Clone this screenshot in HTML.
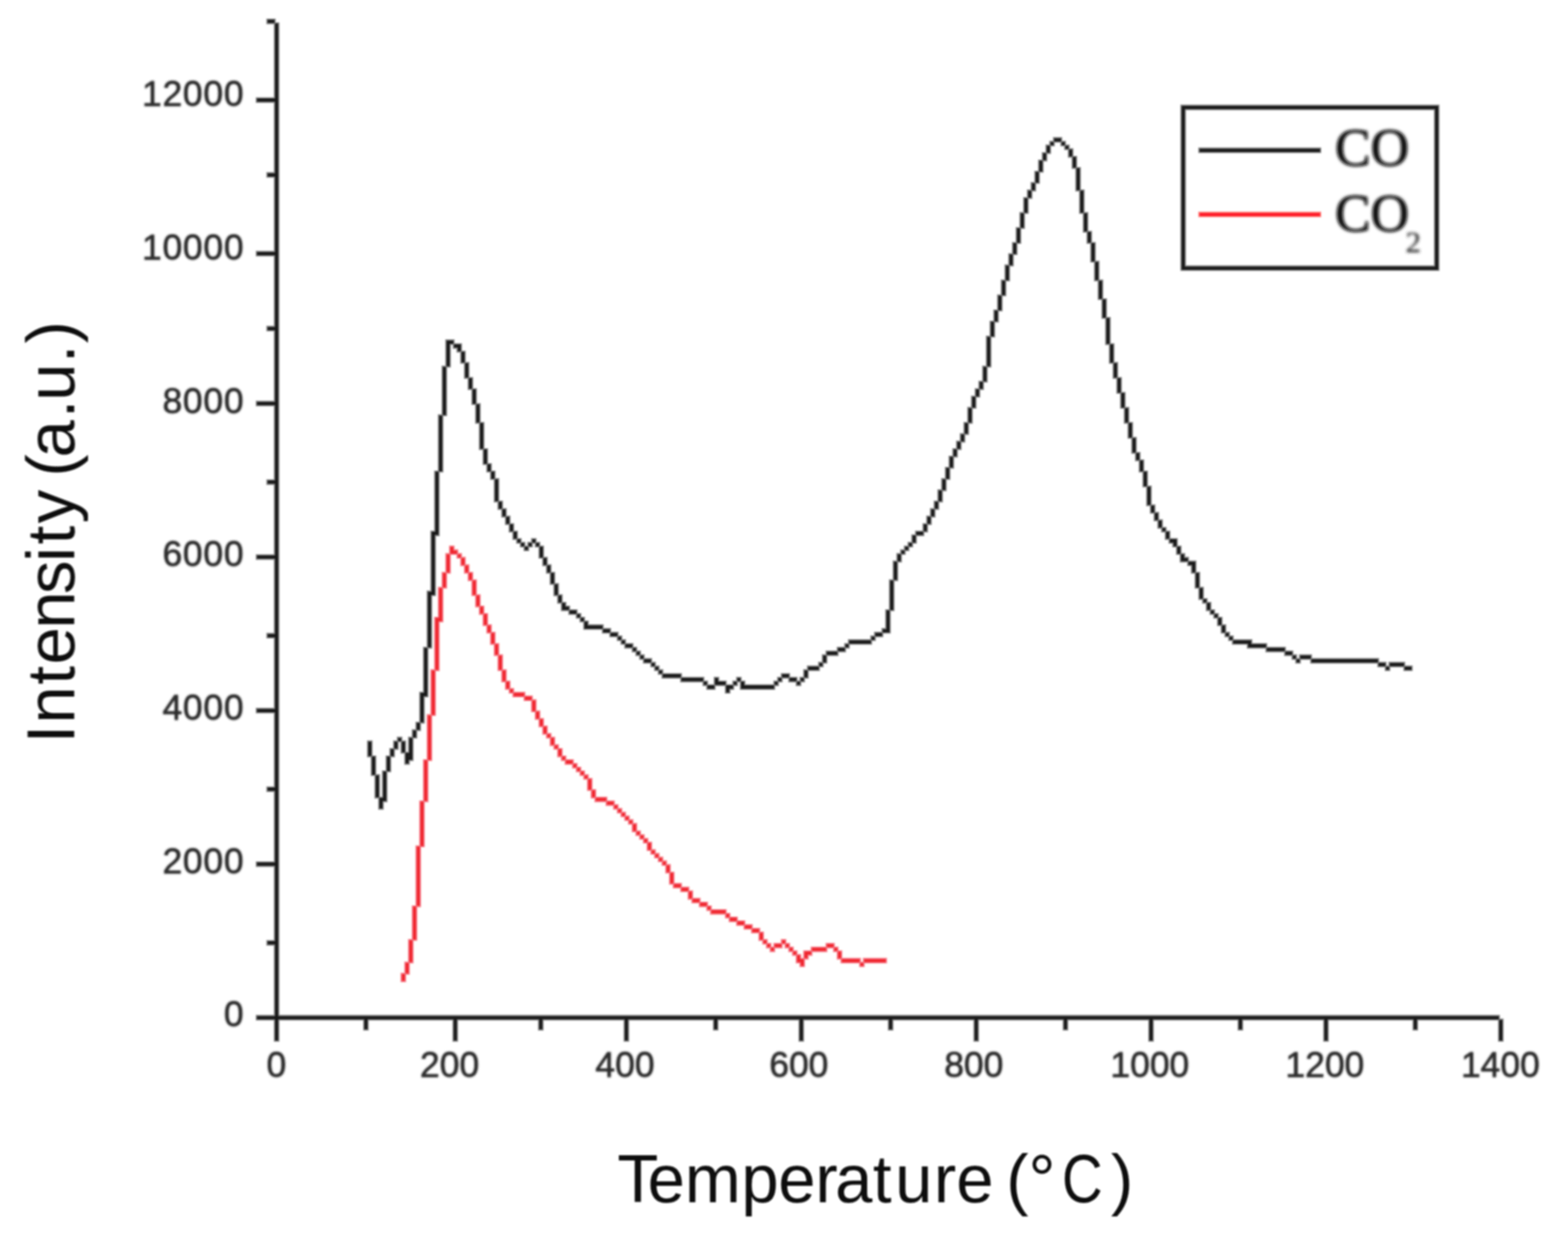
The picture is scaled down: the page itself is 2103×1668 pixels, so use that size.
<!DOCTYPE html>
<html lang="en">
<head>
<meta charset="utf-8">
<title>TPD profile: CO and CO2 intensity vs temperature</title>
<style>
html,body{margin:0;padding:0;background:#fff;}
body{width:2103px;height:1668px;overflow:hidden;}
svg{display:block;}
.ln{fill:none;stroke-linecap:square;stroke-linejoin:miter;}
.tick{font-family:"Liberation Sans",Arial,sans-serif;font-size:47.5px;fill:#2a2a2a;stroke:#2a2a2a;stroke-width:0.9;stroke-linejoin:round;}
.title{font-family:"Liberation Sans",Arial,sans-serif;font-size:90px;fill:#0c0c0c;}
.leg{font-family:"Liberation Serif","Times New Roman",serif;fill:#0a0a0a;stroke:#0a0a0a;stroke-width:1.3;stroke-linejoin:round;}
</style>
</head>
<body>
<svg width="2103" height="1668" viewBox="0 0 2103 1668">
<defs>
<filter id="fLine" filterUnits="userSpaceOnUse" x="0" y="0" width="2103" height="1668"><feGaussianBlur stdDeviation="1.0"/></filter>
<filter id="fTick" filterUnits="userSpaceOnUse" x="0" y="0" width="2103" height="1668"><feGaussianBlur stdDeviation="1.8"/></filter>
<filter id="fTitle" filterUnits="userSpaceOnUse" x="0" y="0" width="2103" height="1668"><feGaussianBlur stdDeviation="1.1"/></filter>
<filter id="fLeg" filterUnits="userSpaceOnUse" x="0" y="0" width="2103" height="1668"><feGaussianBlur stdDeviation="1.9"/></filter>
</defs>
<rect x="0" y="0" width="2103" height="1668" fill="#ffffff"/>
<g id="axes" class="ln" filter="url(#fLine)">
<path d="M371.0,33.7V1393.0M361.0,28.7H366.0M346.8,1364.6H2008.0M2012.9,1369.6V1393.0M490.8,1364.6V1378.1M610.6,1364.6V1393.0M725.3,1364.6V1378.1M840.1,1364.6V1393.0M959.9,1364.6V1378.1M1074.7,1364.6V1393.0M1194.5,1364.6V1378.1M1309.3,1364.6V1393.0M1429.0,1364.6V1378.1M1543.8,1364.6V1393.0M1663.6,1364.6V1378.1M1778.4,1364.6V1393.0M1898.2,1364.6V1378.1M361.0,1264.2H371.0M346.8,1158.7H371.0M361.0,1058.2H371.0M346.8,952.8H371.0M361.0,852.3H371.0M346.8,746.9H371.0M361.0,646.4H371.0M346.8,541.0H371.0M361.0,440.5H371.0M346.8,340.1H371.0M361.0,234.6H371.0M346.8,134.2H371.0" stroke="#000000" stroke-width="7.5" stroke-opacity="0.475"/>
<path d="M371.0,33.7V1393.0M361.0,28.7H366.0M346.8,1364.6H2008.0M2012.9,1369.6V1393.0M490.8,1364.6V1378.1M610.6,1364.6V1393.0M725.3,1364.6V1378.1M840.1,1364.6V1393.0M959.9,1364.6V1378.1M1074.7,1364.6V1393.0M1194.5,1364.6V1378.1M1309.3,1364.6V1393.0M1429.0,1364.6V1378.1M1543.8,1364.6V1393.0M1663.6,1364.6V1378.1M1778.4,1364.6V1393.0M1898.2,1364.6V1378.1M361.0,1264.2H371.0M346.8,1158.7H371.0M361.0,1058.2H371.0M346.8,952.8H371.0M361.0,852.3H371.0M346.8,746.9H371.0M361.0,646.4H371.0M346.8,541.0H371.0M361.0,440.5H371.0M346.8,340.1H371.0M361.0,234.6H371.0M346.8,134.2H371.0" stroke="#000000" stroke-width="4.25" stroke-opacity="0.825"/>
</g>
<g id="xlabels" class="tick" filter="url(#fTick)" text-anchor="middle">
<text x="370.6" y="1443.6">0</text>
<text x="603.0" y="1443.6">200</text>
<text x="838.2" y="1443.6">400</text>
<text x="1071.4" y="1443.6">600</text>
<text x="1306.1" y="1443.6">800</text>
<text x="1542.2" y="1443.6">1000</text>
<text x="1776.9" y="1443.6">1200</text>
<text x="2012.3" y="1443.6">1400</text>
</g>
<g id="ylabels" class="tick" filter="url(#fTick)" text-anchor="end" letter-spacing="1">
<text x="327.6" y="1376.4">0</text>
<text x="327.6" y="1170.7">2000</text>
<text x="327.6" y="965.0">4000</text>
<text x="327.6" y="759.3">6000</text>
<text x="327.6" y="553.6">8000</text>
<text x="327.6" y="347.9">10000</text>
<text x="327.6" y="142.2">12000</text>
</g>
<g id="curve-co2" filter="url(#fLine)">
<path d="M537.2,1304.3h7.5v12.6h-7.5zM542.2,1289.3h7.5v17.6h-7.5zM547.2,1259.1h7.5v32.7h-7.5zM552.2,1213.9h7.5v47.7h-7.5zM557.2,1133.5h7.5v82.9h-7.5zM562.2,1073.2h7.5v62.8h-7.5zM567.2,1017.9h7.5v57.8h-7.5zM572.2,957.6h7.5v62.8h-7.5zM577.2,897.3h7.5v62.8h-7.5zM582.2,827.0h7.5v72.9h-7.5zM587.2,786.8h7.5v47.7h-7.5zM592.2,766.7h7.5v22.6h-7.5zM597.2,741.6h7.5v27.6h-7.5zM602.2,731.5h7.5v12.6h-7.5zM607.2,736.5h7.5v7.5h-7.5zM612.2,741.6h7.5v7.5h-7.5zM617.2,746.6h7.5v12.6h-7.5zM622.2,756.6h7.5v12.6h-7.5zM627.2,766.7h7.5v12.6h-7.5zM632.2,776.7h7.5v22.6h-7.5zM637.2,796.8h7.5v17.6h-7.5zM642.2,811.9h7.5v12.6h-7.5zM647.2,822.0h7.5v17.6h-7.5zM652.2,837.0h7.5v12.6h-7.5zM657.2,847.1h7.5v17.6h-7.5zM662.2,862.2h7.5v17.6h-7.5zM667.2,877.2h7.5v22.6h-7.5zM672.2,897.3h7.5v17.6h-7.5zM677.2,912.4h7.5v12.6h-7.5zM682.2,922.5h7.5v7.5h-7.5zM687.2,927.5h7.5v7.5h-7.5zM692.2,927.5h7.5v7.5h-7.5zM697.2,927.5h7.5v7.5h-7.5zM702.2,932.5h7.5v7.5h-7.5zM707.2,932.5h7.5v7.5h-7.5zM712.2,937.5h7.5v17.6h-7.5zM717.2,952.6h7.5v12.6h-7.5zM722.2,962.7h7.5v12.6h-7.5zM727.2,972.7h7.5v12.6h-7.5zM732.2,982.8h7.5v7.5h-7.5zM737.2,987.8h7.5v12.6h-7.5zM742.2,997.8h7.5v7.5h-7.5zM747.2,1002.9h7.5v12.6h-7.5zM752.2,1012.9h7.5v7.5h-7.5zM757.2,1017.9h7.5v7.5h-7.5zM762.2,1017.9h7.5v7.5h-7.5zM767.2,1023.0h7.5v7.5h-7.5zM772.2,1028.0h7.5v7.5h-7.5zM777.2,1033.0h7.5v7.5h-7.5zM782.2,1038.0h7.5v7.5h-7.5zM787.2,1043.0h7.5v17.6h-7.5zM792.2,1058.1h7.5v12.6h-7.5zM797.2,1068.2h7.5v7.5h-7.5zM802.2,1068.2h7.5v7.5h-7.5zM807.2,1068.2h7.5v7.5h-7.5zM812.2,1073.2h7.5v7.5h-7.5zM817.2,1073.2h7.5v7.5h-7.5zM822.2,1078.2h7.5v7.5h-7.5zM827.2,1083.2h7.5v7.5h-7.5zM832.2,1088.3h7.5v7.5h-7.5zM837.2,1093.3h7.5v7.5h-7.5zM842.2,1098.3h7.5v7.5h-7.5zM847.2,1103.3h7.5v12.6h-7.5zM852.2,1113.4h7.5v7.5h-7.5zM857.2,1118.4h7.5v7.5h-7.5zM862.2,1123.5h7.5v7.5h-7.5zM867.2,1128.5h7.5v12.6h-7.5zM872.2,1138.5h7.5v7.5h-7.5zM877.2,1143.5h7.5v7.5h-7.5zM882.2,1148.6h7.5v7.5h-7.5zM887.2,1153.6h7.5v7.5h-7.5zM892.2,1158.6h7.5v12.6h-7.5zM897.2,1168.7h7.5v17.6h-7.5zM902.2,1183.8h7.5v7.5h-7.5zM907.2,1183.8h7.5v7.5h-7.5zM912.2,1188.8h7.5v7.5h-7.5zM917.2,1188.8h7.5v7.5h-7.5zM922.2,1193.8h7.5v12.6h-7.5zM927.2,1203.8h7.5v7.5h-7.5zM932.2,1203.8h7.5v7.5h-7.5zM937.2,1208.9h7.5v7.5h-7.5zM942.2,1208.9h7.5v7.5h-7.5zM947.2,1213.9h7.5v7.5h-7.5zM952.2,1218.9h7.5v7.5h-7.5zM957.2,1218.9h7.5v7.5h-7.5zM962.2,1218.9h7.5v7.5h-7.5zM967.2,1218.9h7.5v7.5h-7.5zM972.2,1224.0h7.5v7.5h-7.5zM977.2,1229.0h7.5v7.5h-7.5zM982.2,1229.0h7.5v7.5h-7.5zM987.2,1234.0h7.5v7.5h-7.5zM992.2,1234.0h7.5v7.5h-7.5zM997.2,1239.0h7.5v7.5h-7.5zM1002.2,1239.0h7.5v7.5h-7.5zM1007.2,1244.0h7.5v7.5h-7.5zM1012.2,1244.0h7.5v7.5h-7.5zM1017.2,1249.1h7.5v12.6h-7.5zM1022.2,1259.1h7.5v7.5h-7.5zM1027.2,1264.2h7.5v7.5h-7.5zM1032.2,1269.2h7.5v7.5h-7.5zM1037.2,1264.2h7.5v7.5h-7.5zM1042.2,1264.2h7.5v7.5h-7.5zM1047.2,1259.1h7.5v7.5h-7.5zM1052.2,1264.2h7.5v7.5h-7.5zM1057.2,1269.2h7.5v7.5h-7.5zM1062.2,1274.2h7.5v7.5h-7.5zM1067.2,1279.2h7.5v12.6h-7.5zM1072.2,1284.2h7.5v12.6h-7.5zM1077.2,1274.2h7.5v12.6h-7.5zM1082.2,1274.2h7.5v7.5h-7.5zM1087.2,1269.2h7.5v7.5h-7.5zM1092.2,1269.2h7.5v7.5h-7.5zM1097.2,1269.2h7.5v7.5h-7.5zM1102.2,1269.2h7.5v7.5h-7.5zM1107.2,1264.2h7.5v7.5h-7.5zM1112.2,1264.2h7.5v7.5h-7.5zM1117.2,1269.2h7.5v7.5h-7.5zM1122.2,1274.2h7.5v12.6h-7.5zM1127.2,1284.2h7.5v7.5h-7.5zM1132.2,1284.2h7.5v7.5h-7.5zM1137.2,1284.2h7.5v7.5h-7.5zM1142.2,1284.2h7.5v7.5h-7.5zM1147.2,1284.2h7.5v7.5h-7.5zM1152.2,1289.3h7.5v7.5h-7.5zM1157.2,1284.2h7.5v7.5h-7.5zM1162.2,1284.2h7.5v7.5h-7.5zM1167.2,1284.2h7.5v7.5h-7.5zM1172.2,1284.2h7.5v7.5h-7.5zM1177.2,1284.2h7.5v7.5h-7.5zM1182.2,1284.2h7.5v7.5h-7.5zM602.2,736.5h12.5v7.5h-12.5zM582.2,827.0h12.5v7.5h-12.5zM687.2,927.5h17.5v7.5h-17.5zM702.2,932.5h12.5v7.5h-12.5zM757.2,1017.9h12.5v7.5h-12.5zM797.2,1068.2h17.5v7.5h-17.5zM812.2,1073.2h12.5v7.5h-12.5zM902.2,1183.8h12.5v7.5h-12.5zM912.2,1188.8h12.5v7.5h-12.5zM927.2,1203.8h12.5v7.5h-12.5zM937.2,1208.9h12.5v7.5h-12.5zM952.2,1218.9h22.5v7.5h-22.5zM977.2,1229.0h12.5v7.5h-12.5zM987.2,1234.0h12.5v7.5h-12.5zM997.2,1239.0h12.5v7.5h-12.5zM1007.2,1244.0h12.5v7.5h-12.5zM1037.2,1264.2h12.5v7.5h-12.5zM1107.2,1264.2h12.5v7.5h-12.5zM1087.2,1269.2h22.5v7.5h-22.5zM1077.2,1274.2h12.5v7.5h-12.5zM1067.2,1284.2h12.5v7.5h-12.5zM1127.2,1284.2h27.5v7.5h-27.5zM1157.2,1284.2h32.5v7.5h-32.5z" fill="#ee0a16" fill-opacity="0.475"/>
<path d="M538.9,1306.0h4.2v9.3h-4.2zM543.9,1290.9h4.2v14.3h-4.2zM548.9,1260.8h4.2v29.4h-4.2zM553.9,1215.5h4.2v44.5h-4.2zM558.9,1135.1h4.2v79.7h-4.2zM563.9,1074.8h4.2v59.6h-4.2zM568.9,1019.6h4.2v54.5h-4.2zM573.9,959.3h4.2v59.6h-4.2zM578.9,899.0h4.2v59.6h-4.2zM583.9,828.6h4.2v69.6h-4.2zM588.9,788.4h4.2v44.5h-4.2zM593.9,768.3h4.2v19.4h-4.2zM598.9,743.2h4.2v24.4h-4.2zM603.9,733.1h4.2v9.3h-4.2zM608.9,738.2h4.2v4.3h-4.2zM613.9,743.2h4.2v4.3h-4.2zM618.9,748.2h4.2v9.3h-4.2zM623.9,758.3h4.2v9.3h-4.2zM628.9,768.3h4.2v9.3h-4.2zM633.9,778.4h4.2v19.4h-4.2zM638.9,798.5h4.2v14.3h-4.2zM643.9,813.5h4.2v9.3h-4.2zM648.9,823.6h4.2v14.3h-4.2zM653.9,838.7h4.2v9.3h-4.2zM658.9,848.7h4.2v14.3h-4.2zM663.9,863.8h4.2v14.3h-4.2zM668.9,878.9h4.2v19.4h-4.2zM673.9,899.0h4.2v14.3h-4.2zM678.9,914.0h4.2v9.3h-4.2zM683.9,924.1h4.2v4.3h-4.2zM688.9,929.1h4.2v4.3h-4.2zM693.9,929.1h4.2v4.3h-4.2zM698.9,929.1h4.2v4.3h-4.2zM703.9,934.1h4.2v4.3h-4.2zM708.9,934.1h4.2v4.3h-4.2zM713.9,939.2h4.2v14.3h-4.2zM718.9,954.2h4.2v9.3h-4.2zM723.9,964.3h4.2v9.3h-4.2zM728.9,974.3h4.2v9.3h-4.2zM733.9,984.4h4.2v4.3h-4.2zM738.9,989.4h4.2v9.3h-4.2zM743.9,999.5h4.2v4.3h-4.2zM748.9,1004.5h4.2v9.3h-4.2zM753.9,1014.5h4.2v4.3h-4.2zM758.9,1019.6h4.2v4.3h-4.2zM763.9,1019.6h4.2v4.3h-4.2zM768.9,1024.6h4.2v4.3h-4.2zM773.9,1029.6h4.2v4.3h-4.2zM778.9,1034.6h4.2v4.3h-4.2zM783.9,1039.7h4.2v4.3h-4.2zM788.9,1044.7h4.2v14.3h-4.2zM793.9,1059.8h4.2v9.3h-4.2zM798.9,1069.8h4.2v4.3h-4.2zM803.9,1069.8h4.2v4.3h-4.2zM808.9,1069.8h4.2v4.3h-4.2zM813.9,1074.8h4.2v4.3h-4.2zM818.9,1074.8h4.2v4.3h-4.2zM823.9,1079.8h4.2v4.3h-4.2zM828.9,1084.9h4.2v4.3h-4.2zM833.9,1089.9h4.2v4.3h-4.2zM838.9,1094.9h4.2v4.3h-4.2zM843.9,1100.0h4.2v4.3h-4.2zM848.9,1105.0h4.2v9.3h-4.2zM853.9,1115.0h4.2v4.3h-4.2zM858.9,1120.0h4.2v4.3h-4.2zM863.9,1125.1h4.2v4.3h-4.2zM868.9,1130.1h4.2v9.3h-4.2zM873.9,1140.2h4.2v4.3h-4.2zM878.9,1145.2h4.2v4.3h-4.2zM883.9,1150.2h4.2v4.3h-4.2zM888.9,1155.2h4.2v4.3h-4.2zM893.9,1160.2h4.2v9.3h-4.2zM898.9,1170.3h4.2v14.3h-4.2zM903.9,1185.4h4.2v4.3h-4.2zM908.9,1185.4h4.2v4.3h-4.2zM913.9,1190.4h4.2v4.3h-4.2zM918.9,1190.4h4.2v4.3h-4.2zM923.9,1195.4h4.2v9.3h-4.2zM928.9,1205.5h4.2v4.3h-4.2zM933.9,1205.5h4.2v4.3h-4.2zM938.9,1210.5h4.2v4.3h-4.2zM943.9,1210.5h4.2v4.3h-4.2zM948.9,1215.5h4.2v4.3h-4.2zM953.9,1220.5h4.2v4.3h-4.2zM958.9,1220.5h4.2v4.3h-4.2zM963.9,1220.5h4.2v4.3h-4.2zM968.9,1220.5h4.2v4.3h-4.2zM973.9,1225.6h4.2v4.3h-4.2zM978.9,1230.6h4.2v4.3h-4.2zM983.9,1230.6h4.2v4.3h-4.2zM988.9,1235.6h4.2v4.3h-4.2zM993.9,1235.6h4.2v4.3h-4.2zM998.9,1240.7h4.2v4.3h-4.2zM1003.9,1240.7h4.2v4.3h-4.2zM1008.9,1245.7h4.2v4.3h-4.2zM1013.9,1245.7h4.2v4.3h-4.2zM1018.9,1250.7h4.2v9.3h-4.2zM1023.9,1260.8h4.2v4.3h-4.2zM1028.9,1265.8h4.2v4.3h-4.2zM1033.9,1270.8h4.2v4.3h-4.2zM1038.9,1265.8h4.2v4.3h-4.2zM1043.9,1265.8h4.2v4.3h-4.2zM1048.9,1260.8h4.2v4.3h-4.2zM1053.9,1265.8h4.2v4.3h-4.2zM1058.9,1270.8h4.2v4.3h-4.2zM1063.9,1275.8h4.2v4.3h-4.2zM1068.9,1280.8h4.2v9.3h-4.2zM1073.9,1285.9h4.2v9.3h-4.2zM1078.9,1275.8h4.2v9.3h-4.2zM1083.9,1275.8h4.2v4.3h-4.2zM1088.9,1270.8h4.2v4.3h-4.2zM1093.9,1270.8h4.2v4.3h-4.2zM1098.9,1270.8h4.2v4.3h-4.2zM1103.9,1270.8h4.2v4.3h-4.2zM1108.9,1265.8h4.2v4.3h-4.2zM1113.9,1265.8h4.2v4.3h-4.2zM1118.9,1270.8h4.2v4.3h-4.2zM1123.9,1275.8h4.2v9.3h-4.2zM1128.9,1285.9h4.2v4.3h-4.2zM1133.9,1285.9h4.2v4.3h-4.2zM1138.9,1285.9h4.2v4.3h-4.2zM1143.9,1285.9h4.2v4.3h-4.2zM1148.9,1285.9h4.2v4.3h-4.2zM1153.9,1290.9h4.2v4.3h-4.2zM1158.9,1285.9h4.2v4.3h-4.2zM1163.9,1285.9h4.2v4.3h-4.2zM1168.9,1285.9h4.2v4.3h-4.2zM1173.9,1285.9h4.2v4.3h-4.2zM1178.9,1285.9h4.2v4.3h-4.2zM1183.9,1285.9h4.2v4.3h-4.2zM603.9,738.2h9.2v4.3h-9.2zM583.9,828.6h9.2v4.3h-9.2zM688.9,929.1h14.2v4.3h-14.2zM703.9,934.1h9.2v4.3h-9.2zM758.9,1019.6h9.2v4.3h-9.2zM798.9,1069.8h14.2v4.3h-14.2zM813.9,1074.8h9.2v4.3h-9.2zM903.9,1185.4h9.2v4.3h-9.2zM913.9,1190.4h9.2v4.3h-9.2zM928.9,1205.5h9.2v4.3h-9.2zM938.9,1210.5h9.2v4.3h-9.2zM953.9,1220.5h19.2v4.3h-19.2zM978.9,1230.6h9.2v4.3h-9.2zM988.9,1235.6h9.2v4.3h-9.2zM998.9,1240.7h9.2v4.3h-9.2zM1008.9,1245.7h9.2v4.3h-9.2zM1038.9,1265.8h9.2v4.3h-9.2zM1108.9,1265.8h9.2v4.3h-9.2zM1088.9,1270.8h19.2v4.3h-19.2zM1078.9,1275.8h9.2v4.3h-9.2zM1068.9,1285.9h9.2v4.3h-9.2zM1128.9,1285.9h24.2v4.3h-24.2zM1158.9,1285.9h29.2v4.3h-29.2z" fill="#ee0a16" fill-opacity="0.825"/>
</g>
<g id="curve-co" filter="url(#fLine)">
<path d="M492.2,992.8h7.5v22.6h-7.5zM497.2,1012.9h7.5v27.6h-7.5zM502.2,1038.0h7.5v32.7h-7.5zM507.2,1068.2h7.5v17.6h-7.5zM512.2,1033.0h7.5v42.7h-7.5zM517.2,1012.9h7.5v22.6h-7.5zM522.2,1002.9h7.5v12.6h-7.5zM527.2,992.8h7.5v12.6h-7.5zM532.2,987.8h7.5v7.5h-7.5zM537.2,992.8h7.5v17.6h-7.5zM542.2,1007.9h7.5v17.6h-7.5zM547.2,987.8h7.5v32.7h-7.5zM552.2,977.7h7.5v12.6h-7.5zM557.2,967.7h7.5v12.6h-7.5zM562.2,927.5h7.5v42.7h-7.5zM567.2,867.2h7.5v67.8h-7.5zM572.2,791.8h7.5v77.9h-7.5zM577.2,711.4h7.5v87.9h-7.5zM582.2,631.0h7.5v87.9h-7.5zM587.2,555.6h7.5v77.9h-7.5zM592.2,490.3h7.5v67.8h-7.5zM597.2,455.1h7.5v37.7h-7.5zM602.2,455.1h7.5v7.5h-7.5zM607.2,460.2h7.5v7.5h-7.5zM612.2,460.2h7.5v12.6h-7.5zM617.2,470.2h7.5v17.6h-7.5zM622.2,485.3h7.5v22.6h-7.5zM627.2,505.4h7.5v17.6h-7.5zM632.2,520.5h7.5v22.6h-7.5zM637.2,540.6h7.5v27.6h-7.5zM642.2,565.7h7.5v37.7h-7.5zM647.2,600.9h7.5v22.6h-7.5zM652.2,621.0h7.5v12.6h-7.5zM657.2,631.0h7.5v12.6h-7.5zM662.2,641.1h7.5v32.7h-7.5zM667.2,671.2h7.5v12.6h-7.5zM672.2,681.3h7.5v12.6h-7.5zM677.2,691.3h7.5v12.6h-7.5zM682.2,701.4h7.5v12.6h-7.5zM687.2,711.4h7.5v12.6h-7.5zM692.2,721.5h7.5v7.5h-7.5zM697.2,726.5h7.5v7.5h-7.5zM702.2,731.5h7.5v7.5h-7.5zM707.2,726.5h7.5v7.5h-7.5zM712.2,721.5h7.5v7.5h-7.5zM717.2,726.5h7.5v7.5h-7.5zM722.2,731.5h7.5v17.6h-7.5zM727.2,746.6h7.5v12.6h-7.5zM732.2,756.6h7.5v12.6h-7.5zM737.2,766.7h7.5v17.6h-7.5zM742.2,781.8h7.5v17.6h-7.5zM747.2,796.8h7.5v12.6h-7.5zM752.2,806.9h7.5v12.6h-7.5zM757.2,811.9h7.5v7.5h-7.5zM762.2,816.9h7.5v7.5h-7.5zM767.2,816.9h7.5v7.5h-7.5zM772.2,822.0h7.5v7.5h-7.5zM777.2,827.0h7.5v7.5h-7.5zM782.2,832.0h7.5v12.6h-7.5zM787.2,837.0h7.5v7.5h-7.5zM792.2,837.0h7.5v7.5h-7.5zM797.2,837.0h7.5v7.5h-7.5zM802.2,837.0h7.5v7.5h-7.5zM807.2,842.1h7.5v7.5h-7.5zM812.2,842.1h7.5v7.5h-7.5zM817.2,847.1h7.5v7.5h-7.5zM822.2,847.1h7.5v7.5h-7.5zM827.2,852.1h7.5v7.5h-7.5zM832.2,857.1h7.5v7.5h-7.5zM837.2,862.2h7.5v7.5h-7.5zM842.2,862.2h7.5v7.5h-7.5zM847.2,867.2h7.5v7.5h-7.5zM852.2,872.2h7.5v7.5h-7.5zM857.2,877.2h7.5v7.5h-7.5zM862.2,882.3h7.5v7.5h-7.5zM867.2,882.3h7.5v7.5h-7.5zM872.2,887.3h7.5v7.5h-7.5zM877.2,892.3h7.5v7.5h-7.5zM882.2,897.3h7.5v7.5h-7.5zM887.2,902.4h7.5v7.5h-7.5zM892.2,902.4h7.5v7.5h-7.5zM897.2,902.4h7.5v7.5h-7.5zM902.2,902.4h7.5v7.5h-7.5zM907.2,902.4h7.5v7.5h-7.5zM912.2,907.4h7.5v7.5h-7.5zM917.2,907.4h7.5v7.5h-7.5zM922.2,907.4h7.5v7.5h-7.5zM927.2,907.4h7.5v7.5h-7.5zM932.2,907.4h7.5v7.5h-7.5zM937.2,907.4h7.5v7.5h-7.5zM942.2,912.4h7.5v7.5h-7.5zM947.2,917.4h7.5v7.5h-7.5zM952.2,917.4h7.5v7.5h-7.5zM957.2,907.4h7.5v12.6h-7.5zM962.2,912.4h7.5v7.5h-7.5zM967.2,912.4h7.5v7.5h-7.5zM972.2,917.4h7.5v12.6h-7.5zM977.2,917.4h7.5v7.5h-7.5zM982.2,912.4h7.5v7.5h-7.5zM987.2,907.4h7.5v7.5h-7.5zM992.2,912.4h7.5v12.6h-7.5zM997.2,917.4h7.5v7.5h-7.5zM1002.2,917.4h7.5v7.5h-7.5zM1007.2,917.4h7.5v7.5h-7.5zM1012.2,917.4h7.5v7.5h-7.5zM1017.2,917.4h7.5v7.5h-7.5zM1022.2,917.4h7.5v7.5h-7.5zM1027.2,917.4h7.5v7.5h-7.5zM1032.2,917.4h7.5v7.5h-7.5zM1037.2,912.4h7.5v7.5h-7.5zM1042.2,907.4h7.5v7.5h-7.5zM1047.2,902.4h7.5v7.5h-7.5zM1052.2,902.4h7.5v7.5h-7.5zM1057.2,907.4h7.5v7.5h-7.5zM1062.2,907.4h7.5v7.5h-7.5zM1067.2,912.4h7.5v7.5h-7.5zM1072.2,907.4h7.5v7.5h-7.5zM1077.2,897.3h7.5v12.6h-7.5zM1082.2,892.3h7.5v7.5h-7.5zM1087.2,892.3h7.5v7.5h-7.5zM1092.2,892.3h7.5v7.5h-7.5zM1097.2,887.3h7.5v7.5h-7.5zM1102.2,877.2h7.5v12.6h-7.5zM1107.2,872.2h7.5v7.5h-7.5zM1112.2,872.2h7.5v7.5h-7.5zM1117.2,872.2h7.5v7.5h-7.5zM1122.2,867.2h7.5v7.5h-7.5zM1127.2,867.2h7.5v7.5h-7.5zM1132.2,862.2h7.5v7.5h-7.5zM1137.2,857.1h7.5v7.5h-7.5zM1142.2,857.1h7.5v7.5h-7.5zM1147.2,857.1h7.5v7.5h-7.5zM1152.2,857.1h7.5v7.5h-7.5zM1157.2,857.1h7.5v7.5h-7.5zM1162.2,857.1h7.5v7.5h-7.5zM1167.2,852.1h7.5v7.5h-7.5zM1172.2,847.1h7.5v7.5h-7.5zM1177.2,847.1h7.5v7.5h-7.5zM1182.2,842.1h7.5v7.5h-7.5zM1187.2,816.9h7.5v32.7h-7.5zM1192.2,776.7h7.5v42.7h-7.5zM1197.2,751.6h7.5v27.6h-7.5zM1202.2,741.6h7.5v12.6h-7.5zM1207.2,736.5h7.5v7.5h-7.5zM1212.2,731.5h7.5v7.5h-7.5zM1217.2,726.5h7.5v7.5h-7.5zM1222.2,716.4h7.5v12.6h-7.5zM1227.2,711.4h7.5v7.5h-7.5zM1232.2,711.4h7.5v7.5h-7.5zM1237.2,701.4h7.5v12.6h-7.5zM1242.2,691.3h7.5v12.6h-7.5zM1247.2,681.3h7.5v12.6h-7.5zM1252.2,671.2h7.5v12.6h-7.5zM1257.2,656.1h7.5v17.6h-7.5zM1262.2,641.1h7.5v17.6h-7.5zM1267.2,626.0h7.5v17.6h-7.5zM1272.2,610.9h7.5v17.6h-7.5zM1277.2,600.9h7.5v12.6h-7.5zM1282.2,590.8h7.5v12.6h-7.5zM1287.2,580.8h7.5v12.6h-7.5zM1292.2,565.7h7.5v17.6h-7.5zM1297.2,545.6h7.5v22.6h-7.5zM1302.2,530.5h7.5v17.6h-7.5zM1307.2,520.5h7.5v12.6h-7.5zM1312.2,510.4h7.5v12.6h-7.5zM1317.2,490.3h7.5v22.6h-7.5zM1322.2,450.1h7.5v42.7h-7.5zM1327.2,430.0h7.5v22.6h-7.5zM1332.2,414.9h7.5v17.6h-7.5zM1337.2,394.8h7.5v22.6h-7.5zM1342.2,374.7h7.5v22.6h-7.5zM1347.2,354.6h7.5v22.6h-7.5zM1352.2,339.6h7.5v17.6h-7.5zM1357.2,324.5h7.5v17.6h-7.5zM1362.2,304.4h7.5v22.6h-7.5zM1367.2,284.3h7.5v22.6h-7.5zM1372.2,264.2h7.5v22.6h-7.5zM1377.2,254.1h7.5v12.6h-7.5zM1382.2,244.1h7.5v12.6h-7.5zM1387.2,229.0h7.5v17.6h-7.5zM1392.2,213.9h7.5v17.6h-7.5zM1397.2,203.9h7.5v12.6h-7.5zM1402.2,193.8h7.5v12.6h-7.5zM1407.2,188.8h7.5v7.5h-7.5zM1412.2,183.8h7.5v7.5h-7.5zM1417.2,183.8h7.5v7.5h-7.5zM1422.2,188.8h7.5v7.5h-7.5zM1427.2,193.8h7.5v7.5h-7.5zM1432.2,198.8h7.5v12.6h-7.5zM1437.2,208.9h7.5v17.6h-7.5zM1442.2,224.0h7.5v32.7h-7.5zM1447.2,254.1h7.5v32.7h-7.5zM1452.2,284.3h7.5v27.6h-7.5zM1457.2,309.4h7.5v17.6h-7.5zM1462.2,324.5h7.5v27.6h-7.5zM1467.2,349.6h7.5v27.6h-7.5zM1472.2,374.7h7.5v27.6h-7.5zM1477.2,399.9h7.5v27.6h-7.5zM1482.2,425.0h7.5v37.7h-7.5zM1487.2,460.2h7.5v27.6h-7.5zM1492.2,485.3h7.5v22.6h-7.5zM1497.2,505.4h7.5v22.6h-7.5zM1502.2,525.5h7.5v22.6h-7.5zM1507.2,545.6h7.5v22.6h-7.5zM1512.2,565.7h7.5v22.6h-7.5zM1517.2,585.8h7.5v22.6h-7.5zM1522.2,605.9h7.5v12.6h-7.5zM1527.2,615.9h7.5v17.6h-7.5zM1532.2,631.0h7.5v22.6h-7.5zM1537.2,651.1h7.5v27.6h-7.5zM1542.2,676.2h7.5v12.6h-7.5zM1547.2,686.3h7.5v12.6h-7.5zM1552.2,696.3h7.5v12.6h-7.5zM1557.2,706.4h7.5v7.5h-7.5zM1562.2,711.4h7.5v12.6h-7.5zM1567.2,721.5h7.5v7.5h-7.5zM1572.2,721.5h7.5v12.6h-7.5zM1577.2,731.5h7.5v12.6h-7.5zM1582.2,741.6h7.5v12.6h-7.5zM1587.2,746.6h7.5v7.5h-7.5zM1592.2,751.6h7.5v7.5h-7.5zM1597.2,751.6h7.5v17.6h-7.5zM1602.2,766.7h7.5v22.6h-7.5zM1607.2,786.8h7.5v17.6h-7.5zM1612.2,801.9h7.5v7.5h-7.5zM1617.2,806.9h7.5v12.6h-7.5zM1622.2,816.9h7.5v7.5h-7.5zM1627.2,822.0h7.5v7.5h-7.5zM1632.2,827.0h7.5v12.6h-7.5zM1637.2,837.0h7.5v12.6h-7.5zM1642.2,847.1h7.5v7.5h-7.5zM1647.2,852.1h7.5v7.5h-7.5zM1652.2,857.1h7.5v7.5h-7.5zM1657.2,857.1h7.5v7.5h-7.5zM1662.2,857.1h7.5v7.5h-7.5zM1667.2,857.1h7.5v7.5h-7.5zM1672.2,857.1h7.5v12.6h-7.5zM1677.2,862.2h7.5v7.5h-7.5zM1682.2,862.2h7.5v7.5h-7.5zM1687.2,862.2h7.5v7.5h-7.5zM1692.2,862.2h7.5v7.5h-7.5zM1697.2,867.2h7.5v7.5h-7.5zM1702.2,867.2h7.5v7.5h-7.5zM1707.2,867.2h7.5v7.5h-7.5zM1712.2,867.2h7.5v7.5h-7.5zM1717.2,867.2h7.5v7.5h-7.5zM1722.2,872.2h7.5v7.5h-7.5zM1727.2,872.2h7.5v7.5h-7.5zM1732.2,877.2h7.5v7.5h-7.5zM1737.2,882.3h7.5v7.5h-7.5zM1742.2,877.2h7.5v7.5h-7.5zM1747.2,877.2h7.5v7.5h-7.5zM1752.2,877.2h7.5v7.5h-7.5zM1757.2,882.3h7.5v7.5h-7.5zM1762.2,882.3h7.5v7.5h-7.5zM1767.2,882.3h7.5v7.5h-7.5zM1772.2,882.3h7.5v7.5h-7.5zM1777.2,882.3h7.5v7.5h-7.5zM1782.2,882.3h7.5v7.5h-7.5zM1787.2,882.3h7.5v7.5h-7.5zM1792.2,882.3h7.5v7.5h-7.5zM1797.2,882.3h7.5v7.5h-7.5zM1802.2,882.3h7.5v7.5h-7.5zM1807.2,882.3h7.5v7.5h-7.5zM1812.2,882.3h7.5v7.5h-7.5zM1817.2,882.3h7.5v7.5h-7.5zM1822.2,882.3h7.5v7.5h-7.5zM1827.2,882.3h7.5v7.5h-7.5zM1832.2,882.3h7.5v7.5h-7.5zM1837.2,882.3h7.5v7.5h-7.5zM1842.2,882.3h7.5v7.5h-7.5zM1847.2,887.3h7.5v7.5h-7.5zM1852.2,887.3h7.5v7.5h-7.5zM1857.2,892.3h7.5v7.5h-7.5zM1862.2,887.3h7.5v7.5h-7.5zM1867.2,887.3h7.5v7.5h-7.5zM1872.2,887.3h7.5v7.5h-7.5zM1877.2,887.3h7.5v7.5h-7.5zM1882.2,892.3h7.5v7.5h-7.5zM1887.2,892.3h7.5v7.5h-7.5zM1412.2,183.8h12.5v7.5h-12.5zM597.2,455.1h12.5v7.5h-12.5zM607.2,460.2h12.5v7.5h-12.5zM577.2,711.4h12.5v7.5h-12.5zM1227.2,711.4h12.5v7.5h-12.5zM1567.2,721.5h12.5v7.5h-12.5zM1582.2,746.6h12.5v7.5h-12.5zM1592.2,751.6h12.5v7.5h-12.5zM572.2,791.8h12.5v7.5h-12.5zM752.2,811.9h12.5v7.5h-12.5zM762.2,816.9h12.5v7.5h-12.5zM782.2,837.0h27.5v7.5h-27.5zM807.2,842.1h12.5v7.5h-12.5zM1182.2,842.1h12.5v7.5h-12.5zM817.2,847.1h12.5v7.5h-12.5zM1172.2,847.1h12.5v7.5h-12.5zM1137.2,857.1h32.5v7.5h-32.5zM1652.2,857.1h27.5v7.5h-27.5zM837.2,862.2h12.5v7.5h-12.5zM1672.2,862.2h27.5v7.5h-27.5zM1122.2,867.2h12.5v7.5h-12.5zM1697.2,867.2h27.5v7.5h-27.5zM1107.2,872.2h17.5v7.5h-17.5zM1722.2,872.2h12.5v7.5h-12.5zM1742.2,877.2h17.5v7.5h-17.5zM862.2,882.3h12.5v7.5h-12.5zM1757.2,882.3h92.5v7.5h-92.5zM1847.2,887.3h12.5v7.5h-12.5zM1862.2,887.3h22.5v7.5h-22.5zM1082.2,892.3h17.5v7.5h-17.5zM1882.2,892.3h12.5v7.5h-12.5zM887.2,902.4h27.5v7.5h-27.5zM1047.2,902.4h12.5v7.5h-12.5zM912.2,907.4h32.5v7.5h-32.5zM1057.2,907.4h12.5v7.5h-12.5zM957.2,912.4h17.5v7.5h-17.5zM947.2,917.4h12.5v7.5h-12.5zM972.2,917.4h12.5v7.5h-12.5zM992.2,917.4h47.5v7.5h-47.5zM562.2,927.5h12.5v7.5h-12.5zM542.2,1007.9h12.5v7.5h-12.5zM542.2,1012.9h12.5v7.5h-12.5zM507.2,1068.2h12.5v7.5h-12.5z" fill="#000000" fill-opacity="0.475"/>
<path d="M493.9,994.4h4.2v19.4h-4.2zM498.9,1014.5h4.2v24.4h-4.2zM503.9,1039.7h4.2v29.4h-4.2zM508.9,1069.8h4.2v14.3h-4.2zM513.9,1034.6h4.2v39.5h-4.2zM518.9,1014.5h4.2v19.4h-4.2zM523.9,1004.5h4.2v9.3h-4.2zM528.9,994.4h4.2v9.3h-4.2zM533.9,989.4h4.2v4.3h-4.2zM538.9,994.4h4.2v14.3h-4.2zM543.9,1009.5h4.2v14.3h-4.2zM548.9,989.4h4.2v29.4h-4.2zM553.9,979.4h4.2v9.3h-4.2zM558.9,969.3h4.2v9.3h-4.2zM563.9,929.1h4.2v39.5h-4.2zM568.9,868.8h4.2v64.6h-4.2zM573.9,793.4h4.2v74.6h-4.2zM578.9,713.0h4.2v84.7h-4.2zM583.9,632.6h4.2v84.7h-4.2zM588.9,557.3h4.2v74.6h-4.2zM593.9,491.9h4.2v64.6h-4.2zM598.9,456.8h4.2v34.4h-4.2zM603.9,456.8h4.2v4.3h-4.2zM608.9,461.8h4.2v4.3h-4.2zM613.9,461.8h4.2v9.3h-4.2zM618.9,471.8h4.2v14.3h-4.2zM623.9,486.9h4.2v19.4h-4.2zM628.9,507.0h4.2v14.3h-4.2zM633.9,522.1h4.2v19.4h-4.2zM638.9,542.2h4.2v24.4h-4.2zM643.9,567.3h4.2v34.4h-4.2zM648.9,602.5h4.2v19.4h-4.2zM653.9,622.6h4.2v9.3h-4.2zM658.9,632.6h4.2v9.3h-4.2zM663.9,642.7h4.2v29.4h-4.2zM668.9,672.8h4.2v9.3h-4.2zM673.9,682.9h4.2v9.3h-4.2zM678.9,692.9h4.2v9.3h-4.2zM683.9,703.0h4.2v9.3h-4.2zM688.9,713.0h4.2v9.3h-4.2zM693.9,723.1h4.2v4.3h-4.2zM698.9,728.1h4.2v4.3h-4.2zM703.9,733.1h4.2v4.3h-4.2zM708.9,728.1h4.2v4.3h-4.2zM713.9,723.1h4.2v4.3h-4.2zM718.9,728.1h4.2v4.3h-4.2zM723.9,733.1h4.2v14.3h-4.2zM728.9,748.2h4.2v9.3h-4.2zM733.9,758.3h4.2v9.3h-4.2zM738.9,768.3h4.2v14.3h-4.2zM743.9,783.4h4.2v14.3h-4.2zM748.9,798.5h4.2v9.3h-4.2zM753.9,808.5h4.2v9.3h-4.2zM758.9,813.5h4.2v4.3h-4.2zM763.9,818.6h4.2v4.3h-4.2zM768.9,818.6h4.2v4.3h-4.2zM773.9,823.6h4.2v4.3h-4.2zM778.9,828.6h4.2v4.3h-4.2zM783.9,833.6h4.2v9.3h-4.2zM788.9,838.7h4.2v4.3h-4.2zM793.9,838.7h4.2v4.3h-4.2zM798.9,838.7h4.2v4.3h-4.2zM803.9,838.7h4.2v4.3h-4.2zM808.9,843.7h4.2v4.3h-4.2zM813.9,843.7h4.2v4.3h-4.2zM818.9,848.7h4.2v4.3h-4.2zM823.9,848.7h4.2v4.3h-4.2zM828.9,853.7h4.2v4.3h-4.2zM833.9,858.8h4.2v4.3h-4.2zM838.9,863.8h4.2v4.3h-4.2zM843.9,863.8h4.2v4.3h-4.2zM848.9,868.8h4.2v4.3h-4.2zM853.9,873.8h4.2v4.3h-4.2zM858.9,878.9h4.2v4.3h-4.2zM863.9,883.9h4.2v4.3h-4.2zM868.9,883.9h4.2v4.3h-4.2zM873.9,888.9h4.2v4.3h-4.2zM878.9,893.9h4.2v4.3h-4.2zM883.9,899.0h4.2v4.3h-4.2zM888.9,904.0h4.2v4.3h-4.2zM893.9,904.0h4.2v4.3h-4.2zM898.9,904.0h4.2v4.3h-4.2zM903.9,904.0h4.2v4.3h-4.2zM908.9,904.0h4.2v4.3h-4.2zM913.9,909.0h4.2v4.3h-4.2zM918.9,909.0h4.2v4.3h-4.2zM923.9,909.0h4.2v4.3h-4.2zM928.9,909.0h4.2v4.3h-4.2zM933.9,909.0h4.2v4.3h-4.2zM938.9,909.0h4.2v4.3h-4.2zM943.9,914.0h4.2v4.3h-4.2zM948.9,919.1h4.2v4.3h-4.2zM953.9,919.1h4.2v4.3h-4.2zM958.9,909.0h4.2v9.3h-4.2zM963.9,914.0h4.2v4.3h-4.2zM968.9,914.0h4.2v4.3h-4.2zM973.9,919.1h4.2v9.3h-4.2zM978.9,919.1h4.2v4.3h-4.2zM983.9,914.0h4.2v4.3h-4.2zM988.9,909.0h4.2v4.3h-4.2zM993.9,914.0h4.2v9.3h-4.2zM998.9,919.1h4.2v4.3h-4.2zM1003.9,919.1h4.2v4.3h-4.2zM1008.9,919.1h4.2v4.3h-4.2zM1013.9,919.1h4.2v4.3h-4.2zM1018.9,919.1h4.2v4.3h-4.2zM1023.9,919.1h4.2v4.3h-4.2zM1028.9,919.1h4.2v4.3h-4.2zM1033.9,919.1h4.2v4.3h-4.2zM1038.9,914.0h4.2v4.3h-4.2zM1043.9,909.0h4.2v4.3h-4.2zM1048.9,904.0h4.2v4.3h-4.2zM1053.9,904.0h4.2v4.3h-4.2zM1058.9,909.0h4.2v4.3h-4.2zM1063.9,909.0h4.2v4.3h-4.2zM1068.9,914.0h4.2v4.3h-4.2zM1073.9,909.0h4.2v4.3h-4.2zM1078.9,899.0h4.2v9.3h-4.2zM1083.9,893.9h4.2v4.3h-4.2zM1088.9,893.9h4.2v4.3h-4.2zM1093.9,893.9h4.2v4.3h-4.2zM1098.9,888.9h4.2v4.3h-4.2zM1103.9,878.9h4.2v9.3h-4.2zM1108.9,873.8h4.2v4.3h-4.2zM1113.9,873.8h4.2v4.3h-4.2zM1118.9,873.8h4.2v4.3h-4.2zM1123.9,868.8h4.2v4.3h-4.2zM1128.9,868.8h4.2v4.3h-4.2zM1133.9,863.8h4.2v4.3h-4.2zM1138.9,858.8h4.2v4.3h-4.2zM1143.9,858.8h4.2v4.3h-4.2zM1148.9,858.8h4.2v4.3h-4.2zM1153.9,858.8h4.2v4.3h-4.2zM1158.9,858.8h4.2v4.3h-4.2zM1163.9,858.8h4.2v4.3h-4.2zM1168.9,853.7h4.2v4.3h-4.2zM1173.9,848.7h4.2v4.3h-4.2zM1178.9,848.7h4.2v4.3h-4.2zM1183.9,843.7h4.2v4.3h-4.2zM1188.9,818.6h4.2v29.4h-4.2zM1193.9,778.4h4.2v39.5h-4.2zM1198.9,753.2h4.2v24.4h-4.2zM1203.9,743.2h4.2v9.3h-4.2zM1208.9,738.2h4.2v4.3h-4.2zM1213.9,733.1h4.2v4.3h-4.2zM1218.9,728.1h4.2v4.3h-4.2zM1223.9,718.1h4.2v9.3h-4.2zM1228.9,713.0h4.2v4.3h-4.2zM1233.9,713.0h4.2v4.3h-4.2zM1238.9,703.0h4.2v9.3h-4.2zM1243.9,692.9h4.2v9.3h-4.2zM1248.9,682.9h4.2v9.3h-4.2zM1253.9,672.8h4.2v9.3h-4.2zM1258.9,657.8h4.2v14.3h-4.2zM1263.9,642.7h4.2v14.3h-4.2zM1268.9,627.6h4.2v14.3h-4.2zM1273.9,612.5h4.2v14.3h-4.2zM1278.9,602.5h4.2v9.3h-4.2zM1283.9,592.4h4.2v9.3h-4.2zM1288.9,582.4h4.2v9.3h-4.2zM1293.9,567.3h4.2v14.3h-4.2zM1298.9,547.2h4.2v19.4h-4.2zM1303.9,532.1h4.2v14.3h-4.2zM1308.9,522.1h4.2v9.3h-4.2zM1313.9,512.0h4.2v9.3h-4.2zM1318.9,491.9h4.2v19.4h-4.2zM1323.9,451.7h4.2v39.5h-4.2zM1328.9,431.6h4.2v19.4h-4.2zM1333.9,416.6h4.2v14.3h-4.2zM1338.9,396.5h4.2v19.4h-4.2zM1343.9,376.4h4.2v19.4h-4.2zM1348.9,356.3h4.2v19.4h-4.2zM1353.9,341.2h4.2v14.3h-4.2zM1358.9,326.1h4.2v14.3h-4.2zM1363.9,306.0h4.2v19.4h-4.2zM1368.9,285.9h4.2v19.4h-4.2zM1373.9,265.8h4.2v19.4h-4.2zM1378.9,255.8h4.2v9.3h-4.2zM1383.9,245.7h4.2v9.3h-4.2zM1388.9,230.6h4.2v14.3h-4.2zM1393.9,215.6h4.2v14.3h-4.2zM1398.9,205.5h4.2v9.3h-4.2zM1403.9,195.5h4.2v9.3h-4.2zM1408.9,190.4h4.2v4.3h-4.2zM1413.9,185.4h4.2v4.3h-4.2zM1418.9,185.4h4.2v4.3h-4.2zM1423.9,190.4h4.2v4.3h-4.2zM1428.9,195.5h4.2v4.3h-4.2zM1433.9,200.5h4.2v9.3h-4.2zM1438.9,210.5h4.2v14.3h-4.2zM1443.9,225.6h4.2v29.4h-4.2zM1448.9,255.8h4.2v29.4h-4.2zM1453.9,285.9h4.2v24.4h-4.2zM1458.9,311.0h4.2v14.3h-4.2zM1463.9,326.1h4.2v24.4h-4.2zM1468.9,351.2h4.2v24.4h-4.2zM1473.9,376.4h4.2v24.4h-4.2zM1478.9,401.5h4.2v24.4h-4.2zM1483.9,426.6h4.2v34.4h-4.2zM1488.9,461.8h4.2v24.4h-4.2zM1493.9,486.9h4.2v19.4h-4.2zM1498.9,507.0h4.2v19.4h-4.2zM1503.9,527.1h4.2v19.4h-4.2zM1508.9,547.2h4.2v19.4h-4.2zM1513.9,567.3h4.2v19.4h-4.2zM1518.9,587.4h4.2v19.4h-4.2zM1523.9,607.5h4.2v9.3h-4.2zM1528.9,617.6h4.2v14.3h-4.2zM1533.9,632.6h4.2v19.4h-4.2zM1538.9,652.7h4.2v24.4h-4.2zM1543.9,677.9h4.2v9.3h-4.2zM1548.9,687.9h4.2v9.3h-4.2zM1553.9,698.0h4.2v9.3h-4.2zM1558.9,708.0h4.2v4.3h-4.2zM1563.9,713.0h4.2v9.3h-4.2zM1568.9,723.1h4.2v4.3h-4.2zM1573.9,723.1h4.2v9.3h-4.2zM1578.9,733.1h4.2v9.3h-4.2zM1583.9,743.2h4.2v9.3h-4.2zM1588.9,748.2h4.2v4.3h-4.2zM1593.9,753.2h4.2v4.3h-4.2zM1598.9,753.2h4.2v14.3h-4.2zM1603.9,768.3h4.2v19.4h-4.2zM1608.9,788.4h4.2v14.3h-4.2zM1613.9,803.5h4.2v4.3h-4.2zM1618.9,808.5h4.2v9.3h-4.2zM1623.9,818.6h4.2v4.3h-4.2zM1628.9,823.6h4.2v4.3h-4.2zM1633.9,828.6h4.2v9.3h-4.2zM1638.9,838.7h4.2v9.3h-4.2zM1643.9,848.7h4.2v4.3h-4.2zM1648.9,853.7h4.2v4.3h-4.2zM1653.9,858.8h4.2v4.3h-4.2zM1658.9,858.8h4.2v4.3h-4.2zM1663.9,858.8h4.2v4.3h-4.2zM1668.9,858.8h4.2v4.3h-4.2zM1673.9,858.8h4.2v9.3h-4.2zM1678.9,863.8h4.2v4.3h-4.2zM1683.9,863.8h4.2v4.3h-4.2zM1688.9,863.8h4.2v4.3h-4.2zM1693.9,863.8h4.2v4.3h-4.2zM1698.9,868.8h4.2v4.3h-4.2zM1703.9,868.8h4.2v4.3h-4.2zM1708.9,868.8h4.2v4.3h-4.2zM1713.9,868.8h4.2v4.3h-4.2zM1718.9,868.8h4.2v4.3h-4.2zM1723.9,873.8h4.2v4.3h-4.2zM1728.9,873.8h4.2v4.3h-4.2zM1733.9,878.9h4.2v4.3h-4.2zM1738.9,883.9h4.2v4.3h-4.2zM1743.9,878.9h4.2v4.3h-4.2zM1748.9,878.9h4.2v4.3h-4.2zM1753.9,878.9h4.2v4.3h-4.2zM1758.9,883.9h4.2v4.3h-4.2zM1763.9,883.9h4.2v4.3h-4.2zM1768.9,883.9h4.2v4.3h-4.2zM1773.9,883.9h4.2v4.3h-4.2zM1778.9,883.9h4.2v4.3h-4.2zM1783.9,883.9h4.2v4.3h-4.2zM1788.9,883.9h4.2v4.3h-4.2zM1793.9,883.9h4.2v4.3h-4.2zM1798.9,883.9h4.2v4.3h-4.2zM1803.9,883.9h4.2v4.3h-4.2zM1808.9,883.9h4.2v4.3h-4.2zM1813.9,883.9h4.2v4.3h-4.2zM1818.9,883.9h4.2v4.3h-4.2zM1823.9,883.9h4.2v4.3h-4.2zM1828.9,883.9h4.2v4.3h-4.2zM1833.9,883.9h4.2v4.3h-4.2zM1838.9,883.9h4.2v4.3h-4.2zM1843.9,883.9h4.2v4.3h-4.2zM1848.9,888.9h4.2v4.3h-4.2zM1853.9,888.9h4.2v4.3h-4.2zM1858.9,893.9h4.2v4.3h-4.2zM1863.9,888.9h4.2v4.3h-4.2zM1868.9,888.9h4.2v4.3h-4.2zM1873.9,888.9h4.2v4.3h-4.2zM1878.9,888.9h4.2v4.3h-4.2zM1883.9,893.9h4.2v4.3h-4.2zM1888.9,893.9h4.2v4.3h-4.2zM1413.9,185.4h9.2v4.3h-9.2zM598.9,456.8h9.2v4.3h-9.2zM608.9,461.8h9.2v4.3h-9.2zM578.9,713.0h9.2v4.3h-9.2zM1228.9,713.0h9.2v4.3h-9.2zM1568.9,723.1h9.2v4.3h-9.2zM1583.9,748.2h9.2v4.3h-9.2zM1593.9,753.2h9.2v4.3h-9.2zM573.9,793.4h9.2v4.3h-9.2zM753.9,813.5h9.2v4.3h-9.2zM763.9,818.6h9.2v4.3h-9.2zM783.9,838.7h24.2v4.3h-24.2zM808.9,843.7h9.2v4.3h-9.2zM1183.9,843.7h9.2v4.3h-9.2zM818.9,848.7h9.2v4.3h-9.2zM1173.9,848.7h9.2v4.3h-9.2zM1138.9,858.8h29.2v4.3h-29.2zM1653.9,858.8h24.2v4.3h-24.2zM838.9,863.8h9.2v4.3h-9.2zM1673.9,863.8h24.2v4.3h-24.2zM1123.9,868.8h9.2v4.3h-9.2zM1698.9,868.8h24.2v4.3h-24.2zM1108.9,873.8h14.2v4.3h-14.2zM1723.9,873.8h9.2v4.3h-9.2zM1743.9,878.9h14.2v4.3h-14.2zM863.9,883.9h9.2v4.3h-9.2zM1758.9,883.9h89.2v4.3h-89.2zM1848.9,888.9h9.2v4.3h-9.2zM1863.9,888.9h19.2v4.3h-19.2zM1083.9,893.9h14.2v4.3h-14.2zM1883.9,893.9h9.2v4.3h-9.2zM888.9,904.0h24.2v4.3h-24.2zM1048.9,904.0h9.2v4.3h-9.2zM913.9,909.0h29.2v4.3h-29.2zM1058.9,909.0h9.2v4.3h-9.2zM958.9,914.0h14.2v4.3h-14.2zM948.9,919.1h9.2v4.3h-9.2zM973.9,919.1h9.2v4.3h-9.2zM993.9,919.1h44.2v4.3h-44.2zM563.9,929.1h9.2v4.3h-9.2zM543.9,1009.5h9.2v4.3h-9.2zM543.9,1014.5h9.2v4.3h-9.2zM508.9,1069.8h9.2v4.3h-9.2z" fill="#000000" fill-opacity="0.825"/>
</g>
<g id="legend">
<g class="ln" filter="url(#fLine)">
<path d="M1586.9,144H1926.9V359.5H1586.9ZM1610.9,201.6H1768.3" stroke="#000000" stroke-width="7.5" stroke-opacity="0.475"/>
<path d="M1586.9,144H1926.9V359.5H1586.9ZM1610.9,201.6H1768.3" stroke="#000000" stroke-width="4.25" stroke-opacity="0.825"/>
<path d="M1610.9,287.6H1768.3" stroke="#ff0008" stroke-width="7.5" stroke-opacity="0.475"/>
<path d="M1610.9,287.6H1768.3" stroke="#ff0008" stroke-width="4.25" stroke-opacity="0.825"/>
</g>
<g filter="url(#fLeg)">
<text class="leg" x="1790.5" y="222.4" font-size="71.5">CO</text>
<text class="leg" x="1790.5" y="309.6" font-size="71.5">CO<tspan dx="-4.5" dy="28.6" font-size="41" style="fill:#333;stroke:#333;stroke-width:0.5">2</tspan></text>
</g>
</g>
<g id="titles" filter="url(#fTitle)">
<text class="title" y="1611.8"><tspan x="828.1 868.6 918.6 994.2 1043.7 1093.4 1120.0 1170.8 1200.6 1252.4 1282.4 1328.4 1349.4 1379.6">Temperature (°</tspan><tspan x="1424.2" textLength="54.6" lengthAdjust="spacingAndGlyphs">C</tspan><tspan x="1490.0">)</tspan></text>
<text class="title" transform="translate(99.5,1000.0) rotate(-90)" x="3.2 29.7 82.0 109.1 157.0 203.6 246.4 270.0 298.3 339.6 360.9 386.6 439.2 462.6 513.0 539.5" y="0">Intensity (a.u.)</text>
</g>
</svg>
</body>
</html>
